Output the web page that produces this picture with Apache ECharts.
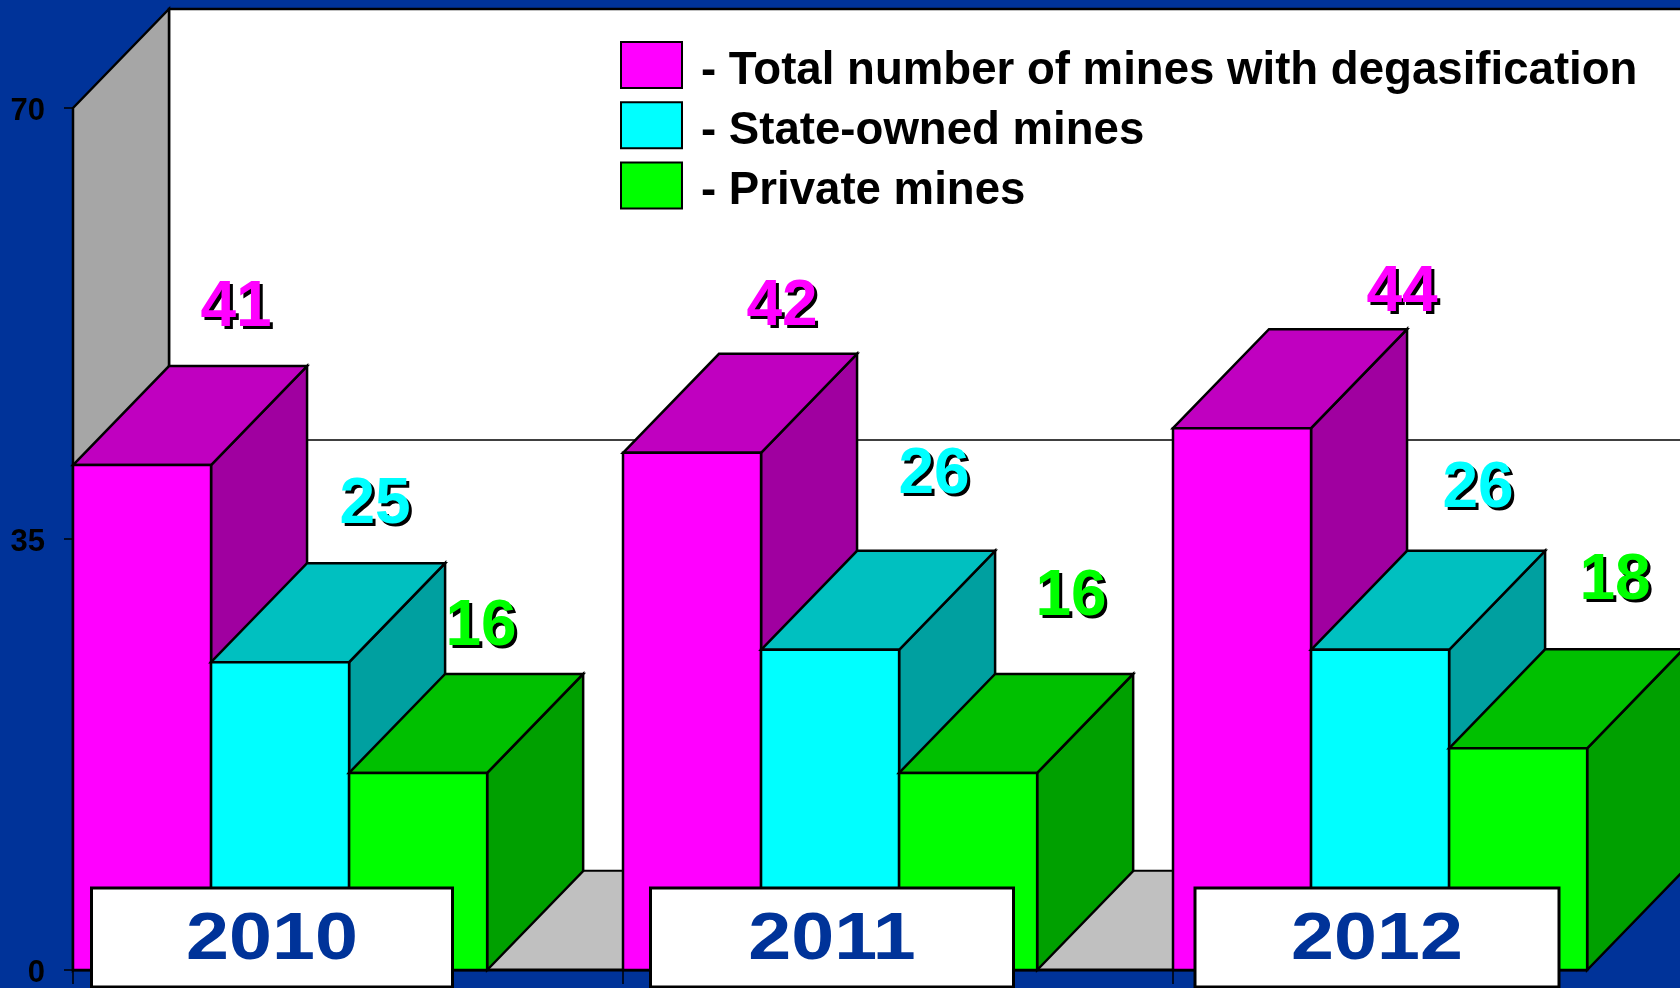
<!DOCTYPE html>
<html>
<head>
<meta charset="utf-8">
<style>html,body{margin:0;padding:0;background:#003399}#c{width:1680px;height:988px}</style>
<script src="https://cdn.jsdelivr.net/npm/echarts@6/dist/echarts.min.js"></script>
</head>
<body>
<div id="c"></div>
<script>
const years = ['2010', '2011', '2012'];
const totalMines = [41, 42, 44];
const stateMines = [25, 26, 26];
const privateMines = [16, 16, 18];
const seriesNames = ['Total number of mines with degasification', 'State-owned mines', 'Private mines'];
const yTicks = [0, 35, 70];

const FONT = '"Liberation Sans", Arial, sans-serif';
const DX = 96, DY = 99;
const faces = [
  ['#FF00FF', '#C000C0', '#A000A0'],
  ['#00FFFF', '#00C0C0', '#00A0A0'],
  ['#00FF00', '#00C000', '#00A000']
];
// hand placement of the value labels, relative to each bar's front top-left corner
const labelNudge = [
  [[163, -157], [159, -145], [229, -135]],
  [[164, -157], [173, -174], [167, -160]],
  [[132, -146], [172, -176], [166, -167]]
];
// hand placement of the year plates, relative to the band centre
const plateNudge = [-76, -66, -71];
const plateW = [361, 363, 364];

const poly = (points, fill, lw) => ({
  type: 'polygon', shape: { points },
  style: { fill, stroke: '#000', lineWidth: lw === undefined ? 2.5 : lw, lineJoin: 'miter' }
});
const line = (x1, y1, x2, y2, lw) => ({
  type: 'line', shape: { x1, y1, x2, y2 },
  style: { stroke: '#000', lineWidth: lw || 2, fill: null }
});

function barSeries(name, values, s) {
  return {
    name, type: 'custom', coordinateSystem: 'cartesian2d', clip: false,
    z: 3 + s,
    itemStyle: { color: faces[s][0], borderColor: '#000', borderWidth: 2 },
    encode: { x: 0, y: 1 },
    data: values.map((v, i) => [i, v]),
    renderItem(params, api) {
      const i = api.value(0), v = api.value(1);
      const band = api.size([1, 0])[0];
      const w = band * 0.251;
      const cx = api.coord([i, 0])[0];
      const base = api.coord([i, 0])[1];
      const top = api.coord([i, v])[1];
      const x0 = cx - band / 2 + s * w, x1 = x0 + w;
      const c = faces[s];
      const n = labelNudge[s][i];
      return {
        type: 'group',
        children: [
          poly([[x1, top], [x1 + DX, top - DY], [x1 + DX, base - DY], [x1, base]], c[2]),
          poly([[x0, top], [x0 + DX, top - DY], [x1 + DX, top - DY], [x1, top]], c[1]),
          poly([[x0, top], [x1, top], [x1, base], [x0, base]], c[0]),
          {
            type: 'text', x: x0 + n[0], y: top + n[1], z2: 50,
            style: {
              text: String(v), fill: c[0], align: 'center', verticalAlign: 'middle',
              fontFamily: FONT, fontWeight: 'bold', fontSize: 64,
              textShadowColor: '#000', textShadowBlur: 0.2, textShadowOffsetX: 3, textShadowOffsetY: 3
            }
          }
        ]
      };
    }
  };
}

const wallsSeries = {
  type: 'custom', coordinateSystem: 'cartesian2d', clip: false, z: 2, silent: true,
  encode: { x: 0, y: 1 },
  data: [[0, 0]],
  renderItem(params, api) {
    const band = api.size([1, 0])[0];
    const x0 = api.coord([0, 0])[0] - band / 2;
    const end = api.coord([years.length - 1, 0])[0] - band / 2 + band * 0.251 * 3;
    const y0 = api.coord([0, 0])[1], ym = api.coord([0, 35])[1], yt = api.coord([0, 70])[1];
    const far = end + DX;
    return {
      type: 'group',
      children: [
        poly([[x0 + DX, yt - DY], [far, yt - DY], [far, y0 - DY], [x0 + DX, y0 - DY]], '#FFFFFF'),
        poly([[x0, y0], [x0 + DX, y0 - DY], [far, y0 - DY], [end, y0]], '#C0C0C0', 1.5),
        poly([[x0, yt], [x0 + DX, yt - DY], [x0 + DX, y0 - DY], [x0, y0]], '#A6A6A6'),
        line(x0, ym, x0 + DX, ym - DY, 1.5),
        line(x0 + DX, ym - DY, far, ym - DY, 1.5),
        line(x0, y0, end, y0, 3)
      ]
    };
  }
};

const platesSeries = {
  type: 'custom', coordinateSystem: 'cartesian2d', clip: false, z: 10, silent: true,
  encode: { x: 0, y: 1 },
  data: years.map((y, i) => [i, 0]),
  renderItem(params, api) {
    const i = api.value(0);
    const cx = api.coord([i, 0])[0] + plateNudge[i];
    const base = api.coord([i, 0])[1];
    const w = plateW[i];
    return {
      type: 'group',
      children: [
        { type: 'rect', shape: { x: cx - w / 2, y: base - 82, width: w, height: 99 },
          style: { fill: '#FFFFFF', stroke: '#000', lineWidth: 3 } },
        { type: 'text', x: cx, y: base - 29, scaleX: 1.17, scaleY: 1,
          style: {
            text: years[i], fill: '#003399', align: 'center', verticalAlign: 'middle',
            fontFamily: FONT, fontWeight: 'bold', fontSize: 66
          } }
      ]
    };
  }
};

const chart = echarts.init(document.getElementById('c'), null, { renderer: 'canvas' });
chart.setOption({
  animation: false,
  backgroundColor: '#003399',
  grid: { left: 73, top: 108, width: 1650, height: 862, containLabel: false, outerBoundsMode: 'none' },
  legend: {
    orient: 'vertical', left: 620, top: 35.5, padding: 0,
    itemWidth: 61, itemHeight: 46, itemGap: 1.2,
    icon: 'rect',
    data: seriesNames,
    formatter: n => '{a|- ' + n + '}',
    textStyle: {
      color: '#000', fontFamily: FONT, fontWeight: 'bold', fontSize: 45.6,
      rich: { a: { color: '#000', fontFamily: FONT, fontWeight: 'bold', fontSize: 45.6, lineHeight: 30, padding: [13, 0, 0, 14] } }
    }
  },
  xAxis: {
    type: 'category', data: years,
    axisLine: { show: false },
    axisTick: { show: true, length: 14, lineStyle: { color: '#000', width: 1.5 } },
    axisLabel: { show: false },
    splitLine: { show: false }
  },
  yAxis: {
    type: 'value', min: 0, max: 70, interval: 35,
    axisLine: { show: true, lineStyle: { color: '#000', width: 2.5 } },
    axisTick: { show: true, length: 9, lineStyle: { color: '#000', width: 1.5 } },
    axisLabel: { color: '#000', fontFamily: FONT, fontWeight: 'bold', fontSize: 31, margin: 28,
      formatter: v => yTicks.includes(v) ? '{a|' + v + '}' : '',
      rich: { a: { color: '#000', fontFamily: FONT, fontWeight: 'bold', fontSize: 31, lineHeight: 31, padding: [6, 0, 0, 0] } } },
    splitLine: { show: false }
  },
  series: [
    wallsSeries,
    barSeries(seriesNames[0], totalMines, 0),
    barSeries(seriesNames[1], stateMines, 1),
    barSeries(seriesNames[2], privateMines, 2),
    platesSeries
  ]
});
</script>
</body>
</html>
